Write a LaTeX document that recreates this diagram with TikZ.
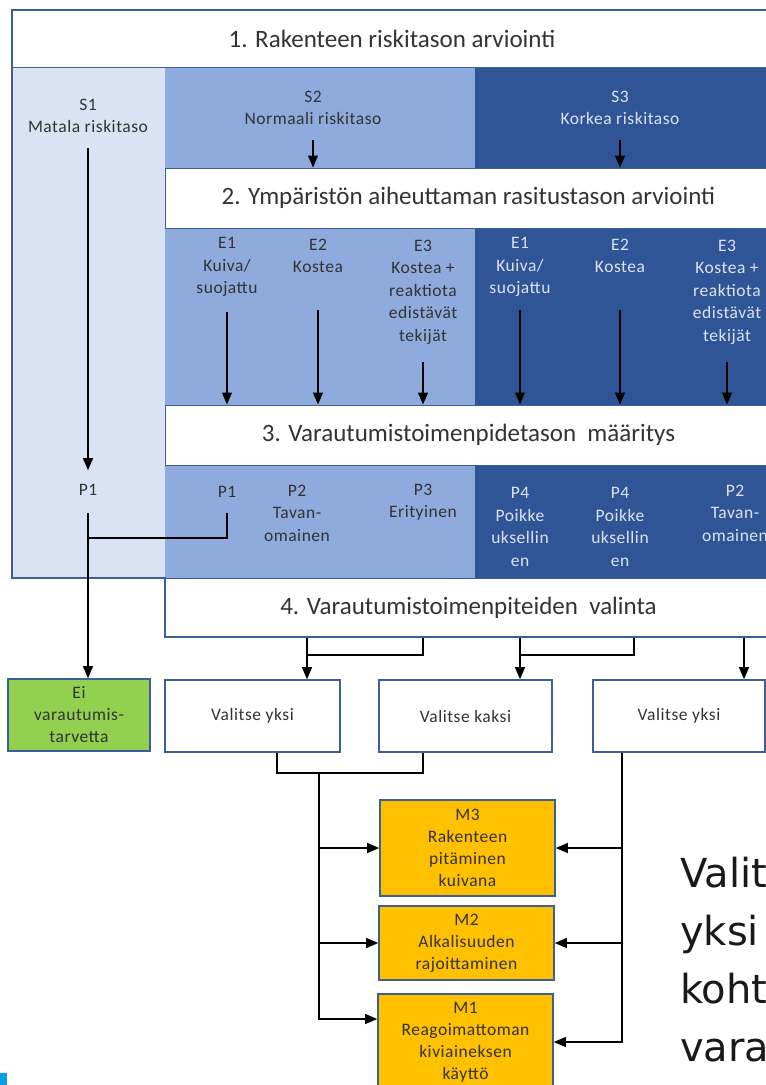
\documentclass[tikz,border=0pt]{standalone}
\usepackage{fontspec}
\setmainfont{Carlito}
\newfontfamily\lblfont[LetterSpace=3]{Carlito}
\newfontfamily\bigfont{DejaVu Sans}
\usetikzlibrary{arrows.meta}

\definecolor{lightblue}{HTML}{DAE3F3}
\definecolor{midblue}{HTML}{8FAADC}
\definecolor{darkblue}{HTML}{2F5597}
\definecolor{framecol}{HTML}{3A5F9A}
\definecolor{lighttext}{HTML}{DCE3EF}
\definecolor{ngreen}{HTML}{92D050}
\definecolor{mgold}{HTML}{FFC000}
\definecolor{cornerblue}{HTML}{00A0E3}

\begin{document}
\begin{tikzpicture}[x=1pt, y=-1pt,
    lbl/.style={align=center, inner sep=0pt, text=black!80, font=\lblfont\fontsize{17.5}{22.5}\selectfont},
    lbld/.style={lbl, text=lighttext},
    band/.style={draw=framecol, line width=1pt, fill=white, inner sep=0pt, text=black!80, font=\fontsize{25}{28}\selectfont},
    choice/.style={draw=framecol, line width=1.6pt, fill=white, minimum height=72pt, inner sep=0pt, text=black!80, font=\lblfont\fontsize{17.5}{22}\selectfont},
    measure/.style={choice, fill=mgold, align=center, minimum width=175pt},
    wire/.style={line width=1.1pt},
    arr/.style={wire, -{Triangle[length=12pt, width=10pt]}}]
    \useasboundingbox (0,0) rectangle (766,1085);
    \clip (0,0) rectangle (766,1085);

    % coloured areas
    \fill[lightblue] (12,67) rectangle (165,578);
    \fill[midblue] (165,67) rectangle (475,168);
    \fill[darkblue] (475,63) rectangle (772,168);
    \fill[midblue] (165,228) rectangle (475,405);
    \fill[darkblue] (475,228) rectangle (772,405);
    \fill[midblue] (165,465) rectangle (475,578);
    \fill[darkblue] (475,465) rectangle (772,578);

    % bands
    \node[band, minimum width=760pt, minimum height=57pt] (b1) at (392,38.5) {1. Rakenteen riskitason arviointi};
    \node[band, minimum width=607pt, minimum height=60pt] (b2) at (468.5,198) {2. Ympäristön aiheuttaman rasitustason arviointi};
    \node[band, minimum width=607pt, minimum height=60pt] (b3) at (468.5,435) {3. Varautumistoimenpidetason~ määritys};
    \node[band, minimum width=607pt, minimum height=59pt] (b4) at (468.5,607.5) {4. Varautumistoimenpiteiden~ valinta};
    \draw[framecol, line width=2pt] (12,10) -- (772,10) -- (772,637) -- (165,637) -- (165,578) -- (12,578) -- cycle;

    % risk levels
    \node[lbl] (s1) at (88,116) {S1\\Matala riskitaso};
    \node[lbl] (s2) at (313,108) {S2\\Normaali riskitaso};
    \node[lbld] (s3) at (620,108) {S3\\Korkea riskitaso};

    % exposure classes
    \node[lbl] (e1) at (227,267) {E1\\Kuiva/\\suojattu};
    \node[lbl] (e2) at (318,256) {E2\\Kostea};
    \node[lbl] (e3) at (423,292) {E3\\Kostea +\\reaktiota\\edistävät\\tekijät};
    \node[lbld] (e4) at (520,267) {E1\\Kuiva/\\suojattu};
    \node[lbld] (e5) at (620,256) {E2\\Kostea};
    \node[lbld] (e6) at (727,292) {E3\\Kostea +\\reaktiota\\edistävät\\tekijät};

    % prevention levels
    \node[lbl] (p1s) at (88,490) {P1};
    \node[lbl] (p1) at (227,492) {P1};
    \node[lbl] (p2) at (297,513) {P2\\Tavan-\\omainen};
    \node[lbl] (p3) at (423,502) {P3\\Erityinen};
    \node[lbld] (p4) at (520,527) {P4\\Poikke\\uksellin\\en};
    \node[lbld] (p5) at (620,527) {P4\\Poikke\\uksellin\\en};
    \node[lbld] (p6) at (735,513) {P2\\Tavan-\\omainen};

    % selection boxes
    \node[choice, fill=ngreen, minimum width=142pt, align=center] (nb) at (79,715) {Ei\\varautumis-\\tarvetta};
    \node[choice, minimum width=175pt] (c1) at (252.5,716) {Valitse yksi};
    \node[choice, minimum width=173pt] (c2) at (465.5,716) {Valitse kaksi};
    \node[choice, minimum width=172pt] (c3) at (679,716) {Valitse yksi};

    % measures
    \node[measure, minimum height=96pt] (m3) at (467.5,848) {M3\\Rakenteen\\pitäminen\\kuivana};
    \node[measure, minimum height=74pt] (m2) at (466.5,943) {M2\\Alkalisuuden\\rajoittaminen};
    \node[measure, minimum height=96pt] (m1) at (465.5,1042) {M1\\Reagoimattoman\\kiviaineksen\\käyttö};

    \node[anchor=north west, align=left, inner sep=0pt, text=black!90, font=\bigfont\fontsize{40}{58}\selectfont] (note) at (680,857) {Valit\\yksi\\koht\\vara};
    \fill[cornerblue] (0,1073) rectangle (7,1085);

    \coordinate (s1o) at (88,148);
    \coordinate (s2o) at (313,140);
    \coordinate (s3o) at (620,140);
    \coordinate (e1o) at (227,312);
    \coordinate (e2o) at (318,310);
    \coordinate (e3o) at (423,362);
    \coordinate (e4o) at (520,310);
    \coordinate (e5o) at (620,310);
    \coordinate (e6o) at (727,362);
    \coordinate (p1o) at (88,513);
    \coordinate (p2o) at (227,513);
    \coordinate (j0) at (88,538);
    \coordinate (k1) at (307,655);
    \coordinate (k2) at (423,655);
    \coordinate (k3) at (520,655);
    \coordinate (k4) at (634,655);
    \coordinate (k5) at (744,655);
    \coordinate (d1) at (277,773);
    \coordinate (d2) at (423,773);
    \coordinate (lb) at (319,773);
    \coordinate (rb) at (622,773);
    \coordinate (m1in) at ([yshift=23pt]m1.west);

    \draw[arr] (s1o) -- ([yshift=14pt]p1s.north);
    \draw[arr] (s2o) -- (s2o |- b2.north);
    \draw[arr] (s3o) -- (s3o |- b2.north);
    \draw[arr] (e1o) -- (e1o |- b3.north);
    \draw[arr] (e2o) -- (e2o |- b3.north);
    \draw[arr] (e3o) -- (e3o |- b3.north);
    \draw[arr] (e4o) -- (e4o |- b3.north);
    \draw[arr] (e5o) -- (e5o |- b3.north);
    \draw[arr] (e6o) -- (e6o |- b3.north);
    \draw[arr] (p1o) -- (p1o |- nb.north);
    \draw[wire] (p2o) |- (j0);

    \draw[arr] (k1 |- b4.south) -- (k1 |- c1.north);
    \draw[wire] (k2 |- b4.south) -- (k2) -- (k1);
    \draw[arr] (k3 |- b4.south) -- (k3 |- c2.north);
    \draw[wire] (k4 |- b4.south) -- (k4) -- (k3);
    \draw[arr] (k5 |- b4.south) -- (k5 |- c3.north);

    \draw[wire] (d1 |- c1.south) -- (d1) -- (d2) -- (d2 |- c2.south);
    \draw[arr] (lb) |- (m1in);
    \draw[arr] (lb |- m3.west) -- (m3.west);
    \draw[arr] (lb |- m2.west) -- (m2.west);
    \draw[arr] (rb |- c3.south) |- (m1.east);
    \draw[arr] (rb |- m3.east) -- (m3.east);
    \draw[arr] (rb |- m2.east) -- (m2.east);
\end{tikzpicture}
\end{document}
